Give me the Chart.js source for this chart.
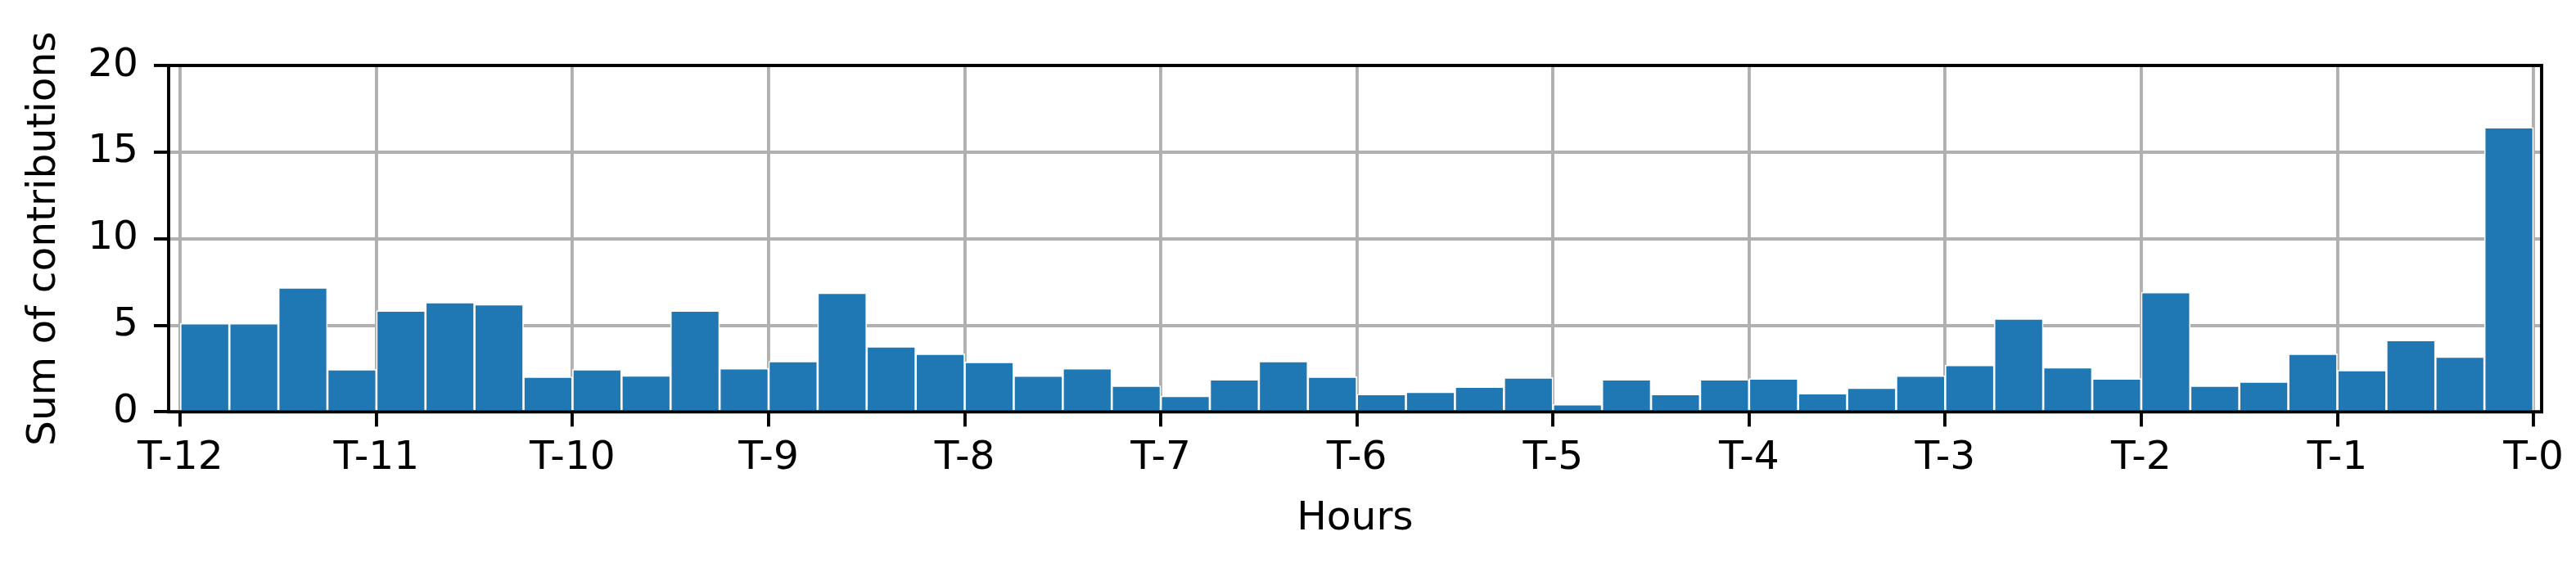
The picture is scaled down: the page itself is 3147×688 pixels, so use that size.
<!DOCTYPE html>
<html>
<head>
<meta charset="utf-8">
<script src="https://cdn.jsdelivr.net/npm/chart.js@4.4.1/dist/chart.umd.min.js"></script>
<style>
  html, body { margin: 0; padding: 0; background: #ffffff; }
  #wrap { width: 3147px; height: 688px; }
</style>
</head>
<body>
<div id="wrap"><canvas id="c" width="3147" height="688"></canvas></div>
<script>
// ---- data ----
const binStartHours = [
  -12, -11.75, -11.5, -11.25, -11, -10.75, -10.5, -10.25,
  -10, -9.75, -9.5, -9.25, -9, -8.75, -8.5, -8.25,
  -8, -7.75, -7.5, -7.25, -7, -6.75, -6.5, -6.25,
  -6, -5.75, -5.5, -5.25, -5, -4.75, -4.5, -4.25,
  -4, -3.75, -3.5, -3.25, -3, -2.75, -2.5, -2.25,
  -2, -1.75, -1.5, -1.25, -1, -0.75, -0.5, -0.25
];
const contributions = [
  5.11, 5.11, 7.17, 2.45, 5.84, 6.32, 6.21, 2.02,
  2.45, 2.10, 5.84, 2.51, 2.92, 6.87, 3.77, 3.35,
  2.88, 2.09, 2.51, 1.50, 0.91, 1.87, 2.92, 2.03,
  1.02, 1.15, 1.45, 1.98, 0.43, 1.87, 1.02, 1.87,
  1.92, 1.07, 1.39, 2.09, 2.70, 5.38, 2.57, 1.92,
  6.90, 1.50, 1.74, 3.35, 2.40, 4.14, 3.18, 16.42
];
const binWidthHours = 0.25;
const hourTicks = [-12, -11, -10, -9, -8, -7, -6, -5, -4, -3, -2, -1, 0];
const hourTickLabels = ['T-12', 'T-11', 'T-10', 'T-9', 'T-8', 'T-7', 'T-6', 'T-5', 'T-4', 'T-3', 'T-2', 'T-1', 'T-0'];
const yTicks = [0, 5, 10, 15, 20];
const xLabel = 'Hours';
const yLabel = 'Sum of contributions';

// ---- styling ----
const FONT = { family: 'DejaVu Sans', size: 48.6, lineHeight: 1.2 };
const GRID = '#b0b0b0';
const LW = 3.9;

const framePlugin = {
  id: 'frame',
  afterDraw(chart) {
    const { ctx, chartArea: a } = chart;
    ctx.save();
    ctx.strokeStyle = '#000000';
    ctx.lineWidth = LW;
    ctx.lineJoin = 'miter';
    ctx.strokeRect(a.left, a.top, a.right - a.left, a.bottom - a.top);
    ctx.restore();
  }
};

new Chart(document.getElementById('c'), {
  type: 'bar',
  data: {
    datasets: [{
      data: binStartHours.map((h, i) => ({ x: h + binWidthHours / 2, y: contributions[i] })),
      backgroundColor: '#1f77b4',
      borderColor: '#ffffff',
      borderWidth: { top: 1.65, left: 1.65, right: 1.65, bottom: 0 },
      borderSkipped: 'start',
      barPercentage: 1,
      categoryPercentage: 1
    }]
  },
  options: {
    responsive: false,
    animation: false,
    devicePixelRatio: 1,
    layout: { padding: { top: 80, right: 42, bottom: 0, left: 0 } },
    plugins: { legend: { display: false }, tooltip: { enabled: false } },
    scales: {
      x: {
        type: 'linear',
        position: 'bottom',
        min: -12.0597,
        max: 0.0417,
        offset: false,
        z: 1,
        grid: { color: GRID, lineWidth: LW, tickColor: '#000000', tickWidth: LW, tickLength: 18, offset: false },
        border: { display: false },
        ticks: {
          font: FONT, color: '#000000', padding: 10, maxRotation: 0, autoSkip: false,
          callback: (v) => hourTickLabels[hourTicks.indexOf(v)]
        },
        afterBuildTicks: (s) => { s.ticks = hourTicks.map(v => ({ value: v })); },
        afterFit: (s) => { s.height = 184.7; },
        title: { display: true, text: xLabel, font: FONT, color: '#000000', padding: { top: 0, bottom: 24 } }
      },
      y: {
        type: 'linear',
        position: 'left',
        min: 0,
        max: 20,
        z: 1,
        grid: { color: GRID, lineWidth: LW, tickColor: '#000000', tickWidth: LW, tickLength: 18 },
        border: { display: false },
        ticks: { font: FONT, color: '#000000', padding: 19 },
        afterBuildTicks: (s) => { s.ticks = yTicks.map(v => ({ value: v })); },
        afterFit: (s) => { s.width = 206; },
        title: { display: true, text: yLabel, font: FONT, color: '#000000', padding: { top: 25, bottom: 0 } }
      }
    }
  },
  plugins: [framePlugin]
});
</script>
</body>
</html>
